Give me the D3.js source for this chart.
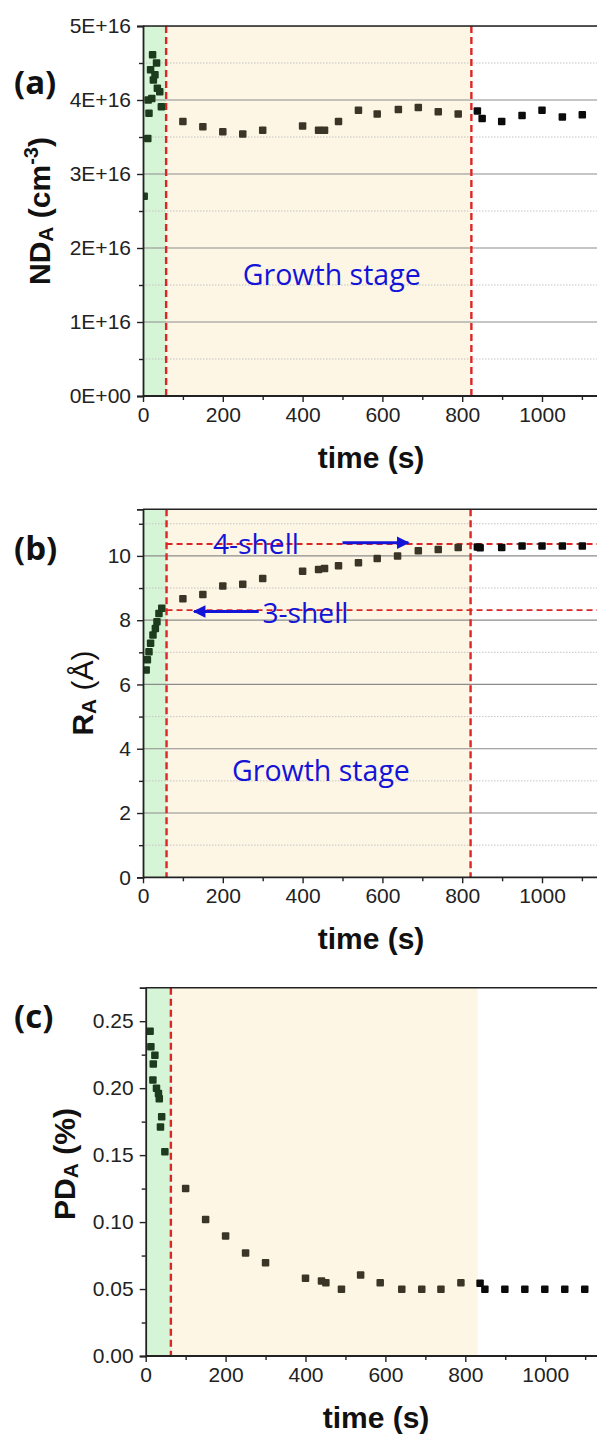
<!DOCTYPE html>
<html><head><meta charset="utf-8">
<script src="https://cdn.jsdelivr.net/npm/d3@7"></script>
<style>body{margin:0;background:#fff}svg{display:block}</style>
</head><body>
<script>
// ---------- DATA ----------
const xTickValues = [0, 200, 400, 600, 800, 1000];
const xTickLabels = ["0", "200", "400", "600", "800", "1000"];
const xMinorTicks = [100, 300, 500, 700, 900, 1100];

// (a) ND_A
const aTime = [3, 12, 13, 15, 19, 22, 24, 26, 30, 34, 36, 42, 46, 100, 150, 200, 250, 300, 400, 440, 455, 490, 540, 587, 640, 690, 740, 790, 838, 850, 899, 950, 1000, 1051, 1101];
const aND = [2.70e16, 3.48e16, 4.00e16, 3.82e16, 4.41e16, 4.02e16, 4.61e16, 4.27e16, 4.34e16, 4.50e16, 4.16e16, 4.11e16, 3.91e16, 3.71e16, 3.64e16, 3.57e16, 3.54e16, 3.59e16, 3.65e16, 3.59e16, 3.59e16, 3.71e16, 3.86e16, 3.81e16, 3.87e16, 3.90e16, 3.84e16, 3.81e16, 3.85e16, 3.75e16, 3.71e16, 3.79e16, 3.86e16, 3.77e16, 3.80e16];
const aTickValues = [0, 1e16, 2e16, 3e16, 4e16, 5e16];
const aTickLabels = ["0E+00", "1E+16", "2E+16", "3E+16", "4E+16", "5E+16"];
const aMinorTicks = [0.5e16, 1.5e16, 2.5e16, 3.5e16, 4.5e16];
const aStages = [58, 823];

// (b) R_A
const bTime = [8, 11, 15, 19, 25, 31, 35, 40, 47, 100, 150, 200, 250, 300, 400, 440, 455, 490, 540, 587, 638, 690, 740, 790, 838, 845, 899, 950, 1000, 1051, 1101];
const bR = [6.45, 6.77, 7.02, 7.28, 7.54, 7.74, 7.95, 8.21, 8.37, 8.67, 8.80, 9.06, 9.12, 9.30, 9.52, 9.58, 9.61, 9.69, 9.79, 9.92, 10.00, 10.16, 10.20, 10.26, 10.28, 10.25, 10.26, 10.31, 10.31, 10.31, 10.31];
const bTickValues = [0, 2, 4, 6, 8, 10];
const bTickLabels = ["0", "2", "4", "6", "8", "10"];
const bMinorTicks = [1, 3, 5, 7, 9, 11];
const bStages = [59, 821];
const shellLevels = [8.31, 10.37];     // 3-shell, 4-shell
const shellLabels = ["3-shell", "4-shell"];

// (c) PD_A
const cTime = [11, 13, 18, 19, 23, 27, 32, 34, 37, 40, 48, 100, 150, 200, 250, 300, 400, 440, 451, 490, 538, 587, 641, 691, 739, 789, 837, 849, 899, 949, 999, 1049, 1099];
const cPD = [0.2425, 0.231, 0.206, 0.218, 0.2246, 0.200, 0.196, 0.192, 0.171, 0.1786, 0.1525, 0.125, 0.102, 0.0896, 0.077, 0.0696, 0.058, 0.056, 0.0547, 0.0498, 0.0604, 0.0547, 0.0498, 0.0498, 0.0498, 0.0547, 0.0543, 0.0498, 0.0498, 0.0498, 0.0498, 0.0498, 0.0498];
const cTickValues = [0, 0.05, 0.10, 0.15, 0.20, 0.25];
const cTickLabels = ["0.00", "0.05", "0.10", "0.15", "0.20", "0.25"];
const cMinorTicks = [0.025, 0.075, 0.125, 0.175, 0.225];
const cStages = [63, 831];

const stageLabel = "Growth stage";

// ---------- STYLE ----------
const W = 597, H = 1434;
const greenBg = "#d6f5d6", beigeBg = "#fdf6e4";
const ptGreen = "#1d3b1d", ptBeige = "#3a3526", ptAfter = "#0b0b0b";
const red = "#dc2626", blue = "#1414d8";
const tickFont = "Liberation Sans, Arial, sans-serif";
const annFont = "Open Sans, sans-serif";

const svg = d3.select("body").append("svg").attr("width", W).attr("height", H);
const defs = svg.append("defs");
defs.append("marker").attr("id", "arr").attr("viewBox", "0 0 10 10").attr("refX", 9).attr("refY", 5)
  .attr("markerWidth", 5).attr("markerHeight", 4.2).attr("orient", "auto-start-reverse")
  .attr("markerUnits", "strokeWidth")
  .append("path").attr("d", "M0,0 L10,5 L0,10 Z").attr("fill", blue);

function drawPanel(cfg) {
  const g = svg.append("g");
  const x = d3.scaleLinear().domain([0, 1140]).range([cfg.x0, cfg.x0 + 1140 * cfg.pxs]);
  const y = d3.scaleLinear().domain([0, cfg.yMax]).range([cfg.yBot, cfg.yTop]);
  const x1 = W + 5;
  const clipId = "clip" + cfg.id;
  defs.append("clipPath").attr("id", clipId).append("rect")
    .attr("x", cfg.x0).attr("y", cfg.yTop).attr("width", W - cfg.x0).attr("height", cfg.yBot - cfg.yTop);
  const pg = g.append("g").attr("clip-path", `url(#${clipId})`);
  // backgrounds
  pg.append("rect").attr("x", x(0)).attr("y", cfg.yTop).attr("width", x(cfg.stages[0]) - x(0))
    .attr("height", cfg.yBot - cfg.yTop).attr("fill", greenBg);
  pg.append("rect").attr("x", x(cfg.stages[0])).attr("y", cfg.yTop).attr("width", x(cfg.stages[1]) - x(cfg.stages[0]))
    .attr("height", cfg.yBot - cfg.yTop).attr("fill", beigeBg);
  // grid
  if (cfg.grid) {
    pg.selectAll(".minor").data(cfg.minor).join("line")
      .attr("x1", x(0)).attr("x2", x1).attr("y1", d => y(d)).attr("y2", d => y(d))
      .attr("stroke", "#c4c4c4").attr("stroke-width", 1).attr("stroke-dasharray", "1.5,1.5");
    pg.selectAll(".major").data(cfg.ticks.slice(1)).join("line")
      .attr("x1", x(0)).attr("x2", x1).attr("y1", d => y(d)).attr("y2", d => y(d))
      .attr("stroke", "#8c8c8c").attr("stroke-width", 1.2);
  }
  // vertical dashed lines
  pg.selectAll(".vd").data(cfg.dashed).join("line")
    .attr("x1", d => x(d)).attr("x2", d => x(d)).attr("y1", cfg.yTop).attr("y2", cfg.yBot)
    .attr("stroke", red).attr("stroke-width", 2.4).attr("stroke-dasharray", "7,4");
  // horizontal shell lines
  if (cfg.shells) {
    pg.selectAll(".hd").data(shellLevels).join("line")
      .attr("x1", x(cfg.stages[0])).attr("x2", x1).attr("y1", d => y(d)).attr("y2", d => y(d))
      .attr("stroke", red).attr("stroke-width", 1.8).attr("stroke-dasharray", "6,4");
  }
  // stage label
  if (cfg.label) {
    const t = g.append("text").attr("x", x(cfg.label[0])).attr("y", y(cfg.label[1]))
      .attr("text-anchor", "middle").attr("dominant-baseline", "central")
      .attr("font-family", annFont).attr("font-size", 26).attr("fill", blue).text(stageLabel);
    const len = t.node().getComputedTextLength();
    t.attr("font-size", 26 * 178 / len);
  }
  if (cfg.shells) {
    g.append("line").attr("x1", x(500)).attr("x2", x(665)).attr("y1", y(10.41)).attr("y2", y(10.41))
      .attr("stroke", blue).attr("stroke-width", 3).attr("marker-end", "url(#arr)");
    g.append("line").attr("x1", x(290)).attr("x2", x(128)).attr("y1", y(8.27)).attr("y2", y(8.27))
      .attr("stroke", blue).attr("stroke-width", 3).attr("marker-end", "url(#arr)");
    const pos = [[407, 8.25], [283, 10.4]];
    shellLabels.forEach((s, i) => {
      const t = g.append("text").attr("x", x(pos[i][0])).attr("y", y(pos[i][1]))
        .attr("text-anchor", "middle").attr("dominant-baseline", "central")
        .attr("font-family", annFont).attr("font-size", 24).attr("fill", blue).text(s);
      const len = t.node().getComputedTextLength();
      t.attr("font-size", 24 * 86 / len);
    });
  }
  // points
  const col = t => t < cfg.stages[0] ? ptGreen : (t < cfg.stages[1] ? ptBeige : ptAfter);
  const s = 7.5;
  pg.selectAll(".pt").data(cfg.t.map((t, i) => [t, cfg.v[i]])).join("rect")
    .attr("x", d => x(d[0]) - s / 2).attr("y", d => y(d[1]) - s / 2)
    .attr("width", s).attr("height", s).attr("rx", 1)
    .attr("fill", d => col(d[0]));
  // top frame
  g.append("line").attr("x1", cfg.x0).attr("x2", W).attr("y1", cfg.yTop).attr("y2", cfg.yTop)
    .attr("stroke", "#222").attr("stroke-width", 1.6);
  // axes
  const yAx = d3.axisLeft(y).tickValues(cfg.ticks).tickFormat((d, i) => cfg.tickLabels[i]).tickSizeOuter(0).tickSize(6).tickPadding(6);
  const ya = g.append("g").attr("transform", `translate(${cfg.x0},0)`).call(yAx);
  const yMin = d3.axisLeft(y).tickValues(cfg.minor).tickFormat("").tickSizeOuter(0).tickSize(4);
  const ym = g.append("g").attr("transform", `translate(${cfg.x0},0)`).call(yMin);
  ym.select(".domain").remove();
  const xAx = d3.axisBottom(x).tickValues(xTickValues).tickFormat((d, i) => xTickLabels[i]).tickSizeOuter(0).tickSize(6).tickPadding(5);
  const xa = g.append("g").attr("transform", `translate(0,${cfg.yBot})`).call(xAx);
  const xMin = d3.axisBottom(x).tickValues(xMinorTicks).tickFormat("").tickSizeOuter(0).tickSize(4);
  const xm = g.append("g").attr("transform", `translate(0,${cfg.yBot})`).call(xMin);
  xm.select(".domain").remove();
  xa.select(".domain").attr("d", `M${cfg.x0},0H${W}`);
  [ya, ym, xa, xm].forEach(a => {
    a.selectAll("line").attr("stroke", "#222").attr("stroke-width", 1.4);
    a.select(".domain").attr("stroke", "#222").attr("stroke-width", 1.8);
    a.selectAll("text").attr("font-family", tickFont).attr("font-size", 21).attr("fill", "#222");
  });
  // x title
  g.append("text").attr("x", cfg.xTitleX).attr("y", cfg.yBot + 72).attr("text-anchor", "middle")
    .attr("font-family", tickFont).attr("font-weight", "bold").attr("font-size", 30).attr("fill", "#111").text("time (s)");
  // y title
  const yt = g.append("text").attr("transform", `translate(${cfg.yTitleX},${cfg.yTitleY}) rotate(-90)`)
    .attr("text-anchor", "middle").attr("font-family", tickFont).attr("font-weight", "bold")
    .attr("font-size", 30).attr("fill", "#111");
  cfg.yTitle(yt);
  // panel label
  g.append("text").attr("x", 14).attr("y", cfg.labY).attr("font-family", annFont).attr("font-weight", "bold")
    .attr("font-size", 33).attr("fill", "#111").text(cfg.panel);
}

drawPanel({
  id: "a", panel: "(a)", labY: 94, x0: 143, pxs: 0.399, yTop: 26, yBot: 396, yMax: 5e16,
  ticks: aTickValues, tickLabels: aTickLabels, minor: aMinorTicks, stages: aStages, dashed: aStages,
  grid: true, shells: false, t: aTime, v: aND, label: [473, 1.66e16], xTitleX: 371,
  yTitleX: 50, yTitleY: 211,
  yTitle: t => {
    t.append("tspan").text("ND");
    t.append("tspan").attr("font-size", 21).attr("dy", 3).text("A");
    t.append("tspan").attr("dy", -3).text(" (cm");
    t.append("tspan").attr("font-size", 20).attr("dy", -12).text("-3");
    t.append("tspan").attr("dy", 12).text(")");
  }
});
drawPanel({
  id: "b", panel: "(b)", labY: 560, x0: 143, pxs: 0.399, yTop: 509.3, yBot: 877.3, yMax: 11.45,
  ticks: bTickValues, tickLabels: bTickLabels, minor: bMinorTicks, stages: bStages, dashed: bStages,
  grid: true, shells: true, t: bTime, v: bR, label: [446, 3.34], xTitleX: 371,
  yTitleX: 93, yTitleY: 693,
  yTitle: t => {
    t.append("tspan").text("R");
    t.append("tspan").attr("font-size", 21).attr("dy", 3).text("A");
    t.append("tspan").attr("dy", -3).attr("font-weight", "normal").text(" (Å)");
  }
});
drawPanel({
  id: "c", panel: "(c)", labY: 1028, x0: 145.7, pxs: 0.3995, yTop: 987.7, yBot: 1356, yMax: 0.275,
  ticks: cTickValues, tickLabels: cTickLabels, minor: cMinorTicks, stages: cStages, dashed: [cStages[0]],
  grid: false, shells: false, t: cTime, v: cPD, label: null, xTitleX: 376,
  yTitleX: 75, yTitleY: 1164,
  yTitle: t => {
    t.append("tspan").text("PD");
    t.append("tspan").attr("font-size", 21).attr("dy", 3).text("A");
    t.append("tspan").attr("dy", -3).text(" (%)");
  }
});
</script>
</body></html>
